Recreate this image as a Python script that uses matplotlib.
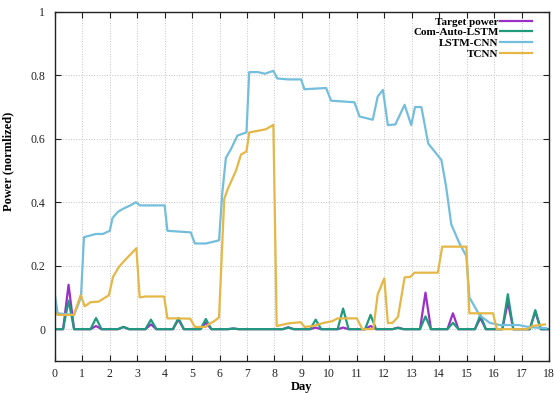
import matplotlib
matplotlib.use('Agg')
from matplotlib import pyplot as plt

# Days with a power spike, and the spike heights
spike_days = [0.5, 1.5, 2.5, 3.5, 4.5, 5.5, 6.5, 8.5, 9.5, 10.5, 11.5, 12.5, 13.5, 14.5, 15.5, 16.5, 17.5]
target_peaks = [0.14, 0.01, 0.007, 0.015, 0.03, 0.02, 0.002, 0.006, 0.005, 0.005, 0.01, 0.005, 0.115, 0.05, 0.035, 0.085, 0.055]
com_peaks = [0.09, 0.035, 0.007, 0.03, 0.035, 0.032, 0.002, 0.005, 0.03, 0.065, 0.045, 0.004, 0.04, 0.02, 0.045, 0.11, 0.06]

# LSTM-CNN curve
lstm_days = [0, 0.1, 0.7, 0.95, 1.06, 1.5, 1.75, 2.0, 2.1, 2.3, 2.5, 2.75, 2.95, 3.1, 3.5, 4.0, 4.1,
             4.95, 5.1, 5.5, 5.75, 5.98, 6.1, 6.23, 6.4, 6.65, 6.98, 7.08, 7.4, 7.65, 7.96, 8.1, 8.5,
             8.97, 9.09, 9.88, 10.06, 10.91, 11.1, 11.58, 11.76, 11.95, 12.13, 12.4, 12.74, 12.98,
             13.12, 13.35, 13.6, 14.08, 14.25, 14.44, 14.74, 14.99, 15.1, 15.47, 15.84, 16.2, 16.9,
             17.18, 17.5, 17.9]
lstm_vals = [0.11, 0.05, 0.045, 0.1, 0.29, 0.30, 0.30, 0.31, 0.35, 0.37, 0.38, 0.39, 0.40, 0.39, 0.39,
             0.39, 0.31, 0.305, 0.27, 0.27, 0.275, 0.28, 0.43, 0.54, 0.565, 0.61, 0.62, 0.81, 0.81,
             0.805, 0.814, 0.79, 0.787, 0.787, 0.756, 0.76, 0.72, 0.715, 0.67, 0.66, 0.733, 0.754,
             0.643, 0.645, 0.707, 0.643, 0.70, 0.70, 0.585, 0.533, 0.45, 0.33, 0.27, 0.23, 0.10,
             0.044, 0.02, 0.013, 0.013, 0.008, 0.005, 0.003]

# TCNN curve
tcnn_days = [0, 0.1, 0.69, 0.94, 1.09, 1.3, 1.6, 1.97, 2.12, 2.34, 2.58, 2.97, 3.09, 3.3, 3.98, 4.1,
             4.5, 4.93, 5.1, 5.5, 5.6, 5.8, 5.98, 6.17, 6.29, 6.6, 6.78, 6.98, 7.08, 7.4, 7.69, 7.96,
             8.08, 8.5, 8.95, 9.1, 9.4, 9.8, 10.1, 10.3, 11.0, 11.2, 11.6, 11.76, 12.0, 12.13, 12.3,
             12.5, 12.74, 12.95, 13.1, 13.95, 14.11, 14.99, 15.1, 15.96, 16.1, 17.2, 17.4, 17.85]
tcnn_vals = [0.055, 0.045, 0.045, 0.107, 0.072, 0.085, 0.087, 0.107, 0.165, 0.197, 0.22, 0.255, 0.10,
             0.103, 0.103, 0.034, 0.034, 0.033, 0.007, 0.007, 0.015, 0.025, 0.037, 0.41, 0.44, 0.50,
             0.55, 0.56, 0.62, 0.625, 0.63, 0.644, 0.01, 0.018, 0.022, 0.007, 0.01, 0.02, 0.025,
             0.034, 0.034, 0.0, 0.0, 0.11, 0.16, 0.019, 0.02, 0.039, 0.163, 0.165, 0.178, 0.178,
             0.26, 0.26, 0.05, 0.05, 0.0, 0.0, 0.01, 0.015]

x_ticks = list(range(0, 19))
y_ticks = [0, 0.2, 0.4, 0.6, 0.8, 1]
y_tick_labels = ['0', '0.2', '0.4', '0.6', '0.8', '1']


def spike_line(days, peaks, end=17.95):
    # zero baseline with a triangular bump at each spike day
    xs, ys = [0], [0]
    for d, p in zip(days, peaks):
        xs += [d - 0.2, d, d + 0.2]
        ys += [0, p, 0]
    xs.append(end)
    ys.append(0)
    return xs, ys


plt.rcParams['font.family'] = ['Liberation Serif', 'DejaVu Serif']

fig = plt.figure(figsize=(5.54, 3.94), dpi=100)
ax = fig.add_axes([0.099, 0.084, 0.892, 0.886])

tx, ty = spike_line(spike_days, target_peaks)
cx, cy = spike_line(spike_days, com_peaks)
ax.plot(tx, ty, color='#9b30c8', lw=1.6, label='Target power')
ax.plot(cx, cy, color='#1f9a7c', lw=1.6, label='Com-Auto-LSTM')
ax.plot(lstm_days, lstm_vals, color='#74bedd', lw=1.6, label='LSTM-CNN')
ax.plot(tcnn_days, tcnn_vals, color='#e5b746', lw=1.6, label='TCNN')

ax.set_xlim(0, 18)
ax.set_ylim(-0.1, 1)
ax.set_xticks(x_ticks)
ax.set_yticks(y_ticks)
ax.set_yticklabels(y_tick_labels)
ax.grid(True, color='#c2c2c2', linestyle=':', linewidth=0.7)
ax.tick_params(direction='in', top=True, right=True, length=4, width=0.8,
               labelsize=8.5, colors='#222222')
ax.tick_params(axis='y', pad=7)
ax.tick_params(axis='x', pad=5)
for s in ax.spines.values():
    s.set_linewidth(1.0)
    s.set_color('#222222')

ax.set_xlabel('Day', fontsize=9, fontweight='bold')
ax.set_ylabel('Power (normlized)', fontsize=9, fontweight='bold')
ax.xaxis.set_label_coords(0.5, -0.058)
ax.yaxis.set_label_coords(-0.083, 0.573)

leg = ax.legend(loc='upper right', frameon=False, markerfirst=False,
                prop={'weight': 'bold', 'size': 8}, handlelength=2.9,
                handletextpad=0.15, labelspacing=0.08, borderaxespad=0.3,
                bbox_to_anchor=(0.982, 1.008))
# right-align the legend rows like gnuplot does
for col in leg._legend_handle_box.get_children():
    col.align = 'right'

fig.savefig('out.png', dpi=100)
